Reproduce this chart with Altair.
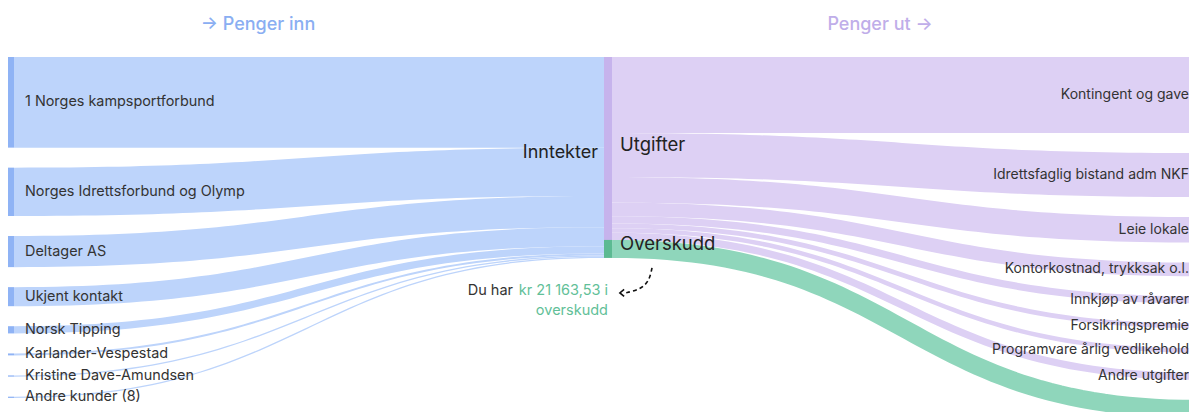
import altair as alt
import pandas as pd
import numpy as np

# ---------------- data ----------------
inn_names = ["1 Norges kampsportforbund", "Norges Idrettsforbund og Olymp", "Deltager AS",
             "Ukjent kontakt", "Norsk Tipping", "Karlander-Vespestad",
             "Kristine Dave-Amundsen", "Andre kunder (8)"]
inn_values = [106500, 56800, 36600, 22400, 8500, 2300, 1500, 1500]

ut_names = ["Kontingent og gave", "Idrettsfaglig bistand adm NKF", "Leie lokale",
            "Kontorkostnad, trykksak o.l.", "Innkjøp av råvarer", "Forsikringspremie",
            "Programvare årlig vedlikehold", "Andre utgifter"]
ut_values = [89400, 51700, 30000, 16000, 8400, 5600, 5300, 8536.47]

overskudd = 21163.53
mid_names = ["Inntekter", "Utgifter", "Overskudd"]
titles = ["→ Penger inn", "Penger ut →"]

# ---------------- layout constants ----------------
W, H = 1181, 404        # view size (page 8px margin)
RIGHT_X0 = 1189         # right nodes sit just past the visible edge
KR_PX = 1175.0          # kr per pixel
TOP = 49                # px from top of plot to nodes
GAP_L = 20 * KR_PX
GAP_R = 20 * KR_PX
LEFT_X1 = 6
MID_X0, MID_X1 = 596, 604

C_IN_LINK, C_IN_NODE = "#bdd4fb", "#8fb3f5"
C_UT_LINK, C_UT_NODE = "#ddd0f4", "#c6b3ec"
C_OV_LINK, C_OV_NODE = "#8fd6bb", "#5cba92"
C_TEXT = "#333333"
FONT = "Inter"

total = sum(inn_values)
sum_ut = sum(ut_values)

left_nodes = []
y = 0.0
for n, v in zip(inn_names, inn_values):
    left_nodes.append((n, v, y, y + v))
    y += v + GAP_L

right_nodes = []
y = 0.0
for n, v in zip(ut_names + ["Overskudd"], ut_values + [overskudd]):
    right_nodes.append((n, v, y, y + v))
    y += v + GAP_R

t = np.linspace(0, 1, 60)
rows = []


def add_link(name, kind, v, x0, x1, sy0, ty0):
    yc0 = sy0 + v / 2
    yc1 = ty0 + v / 2
    xs = x0 + (x1 - x0) * (1.5 * t - 1.5 * t ** 2 + t ** 3)
    ys = yc0 + (yc1 - yc0) * (3 * t ** 2 - 2 * t ** 3)
    for i, (xx, yy) in enumerate(zip(xs, ys)):
        rows.append({"link": name, "kind": kind, "i": i, "x": xx, "y": yy, "w": v})


m = 0.0
for n, v, y0, y1 in left_nodes:
    add_link("in_" + n, "inn", v, LEFT_X1, MID_X0, y0, m)
    m += v

s = 0.0
for (n, v, y0, y1) in right_nodes[:-1]:
    add_link("ut_" + n, "ut", v, MID_X1, RIGHT_X0, s, y0)
    s += v
on, ov, oy0, oy1 = right_nodes[-1]
add_link("ov", "over", ov, MID_X1, RIGHT_X0, sum_ut, oy0)

links = pd.DataFrame(rows)

nodes = pd.DataFrame(
    [{"x": 0, "x2": LEFT_X1, "y": y0, "y2": y1, "kind": "inn_node"} for _, _, y0, y1 in left_nodes]
    + [{"x": MID_X0, "x2": MID_X1, "y": 0, "y2": sum_ut, "kind": "ut_node"},
       {"x": MID_X0, "x2": MID_X1, "y": sum_ut, "y2": total, "kind": "over_node"}]
)

kinds = ["inn", "ut", "over", "inn_node", "ut_node", "over_node"]
kind_colors = [C_IN_LINK, C_UT_LINK, C_OV_LINK, C_IN_NODE, C_UT_NODE, C_OV_NODE]
color_scale = alt.Scale(domain=kinds, range=kind_colors)

xs = alt.Scale(domain=[0, W], nice=False, zero=False)
ys = alt.Scale(domain=[-TOP * KR_PX, (H - TOP) * KR_PX], reverse=True, nice=False, zero=False)
X = lambda f="x": alt.X(f, type="quantitative", scale=xs, axis=None)
Y = lambda f="y": alt.Y(f, type="quantitative", scale=ys, axis=None)

link_layer = alt.Chart(links).mark_line(strokeCap="butt").encode(
    x=X(), y=Y(),
    detail="link:N",
    order="i:Q",
    color=alt.Color("kind:N", scale=color_scale, legend=None),
    strokeWidth=alt.StrokeWidth("w:Q", scale=alt.Scale(domain=[0, 100 * KR_PX], range=[0, 100]), legend=None),
)

node_layer = alt.Chart(nodes).mark_rect().encode(
    x=X(), x2="x2", y=Y(), y2="y2",
    color=alt.Color("kind:N", scale=color_scale, legend=None),
)

left_lab = pd.DataFrame([{"x": LEFT_X1 + 11, "y": (y0 + y1) / 2, "t": n} for n, _, y0, y1 in left_nodes])
right_lab = pd.DataFrame([{"x": W, "y": (y0 + y1) / 2, "t": n} for n, _, y0, y1 in right_nodes[:-1]])

left_text = alt.Chart(left_lab).mark_text(align="left", baseline="middle", font=FONT, fontSize=14.4,
                                          color=C_TEXT).encode(x=X(), y=Y(), text="t:N")
right_text = alt.Chart(right_lab).mark_text(align="right", baseline="middle", font=FONT, fontSize=14,
                                            color=C_TEXT).encode(x=X(), y=Y(), text="t:N")

mid_in = pd.DataFrame([{"x": MID_X0 - 6, "y": total / 2, "t": mid_names[0]}])
mid_out = pd.DataFrame([{"x": MID_X1 + 8, "y": sum_ut / 2, "t": mid_names[1]},
                        {"x": MID_X1 + 8, "y": (sum_ut + total) / 2 - 2 * KR_PX, "t": mid_names[2]}])
mid_in_text = alt.Chart(mid_in).mark_text(align="right", baseline="middle", font=FONT, fontSize=18,
                                          dy=-4, color="#222222").encode(x=X(), y=Y(), text="t:N")
mid_out_text = alt.Chart(mid_out).mark_text(align="left", baseline="middle", font=FONT, fontSize=18.5,
                                            dy=-3, color="#222222").encode(x=X(), y=Y(), text="t:N")

title_df = pd.DataFrame([{"x": 250, "y": -32 * KR_PX, "t": titles[0], "c": "#8aaef2"},
                         {"x": 872, "y": -32 * KR_PX, "t": titles[1], "c": "#bfaee9"}])
title_text = alt.Chart(title_df).mark_text(align="center", baseline="middle", font=FONT,
                                           fontSize=18, fontWeight=500).encode(
    x=X(), y=Y(), text="t:N", color=alt.Color("c:N", scale=None))

amount = f"{overskudd:,.2f}".replace(",", " ").replace(".", ",")
anno_df = pd.DataFrame([
    {"x": 505, "y": total + 33 * KR_PX, "t": "Du har", "c": C_TEXT},
    {"x": 600, "y": total + 33 * KR_PX, "t": f"kr {amount} i", "c": "#62bf98"},
    {"x": 600, "y": total + 53 * KR_PX, "t": "overskudd", "c": "#62bf98"},
])
anno_text = alt.Chart(anno_df).mark_text(align="right", baseline="middle", font=FONT, fontSize=14.5).encode(
    x=X(), y=Y(), text="t:N", color=alt.Color("c:N", scale=None))

arrow_df = pd.DataFrame([
    {"i": 0, "x": 644, "y": total + 10 * KR_PX},
    {"i": 1, "x": 641, "y": total + 24 * KR_PX},
    {"i": 2, "x": 631, "y": total + 32 * KR_PX},
    {"i": 3, "x": 617, "y": total + 35 * KR_PX},
])
arrow_line = alt.Chart(arrow_df).mark_line(color="#111111", strokeWidth=1.6, strokeDash=[4, 3],
                                           interpolate="basis").encode(x=X(), y=Y(), order="i:Q")
head_df = pd.DataFrame([{"x": 614, "y": total + 35 * KR_PX}])
arrow_head = alt.Chart(head_df).mark_point(shape="M 0.6 -1 L -0.6 0 L 0.6 1", filled=False, size=50,
                                           color="#111111", strokeWidth=1.6, opacity=1).encode(x=X(), y=Y())

chart = alt.layer(
    link_layer, node_layer, left_text, right_text, mid_in_text, mid_out_text,
    title_text, anno_text, arrow_line, arrow_head
).properties(
    width=W, height=H, padding=0,
    autosize=alt.AutoSizeParams(type="none"),
    background="white",
).configure_view(strokeWidth=0)

chart.save("out.html", embed_options={"renderer": "svg", "actions": False})
